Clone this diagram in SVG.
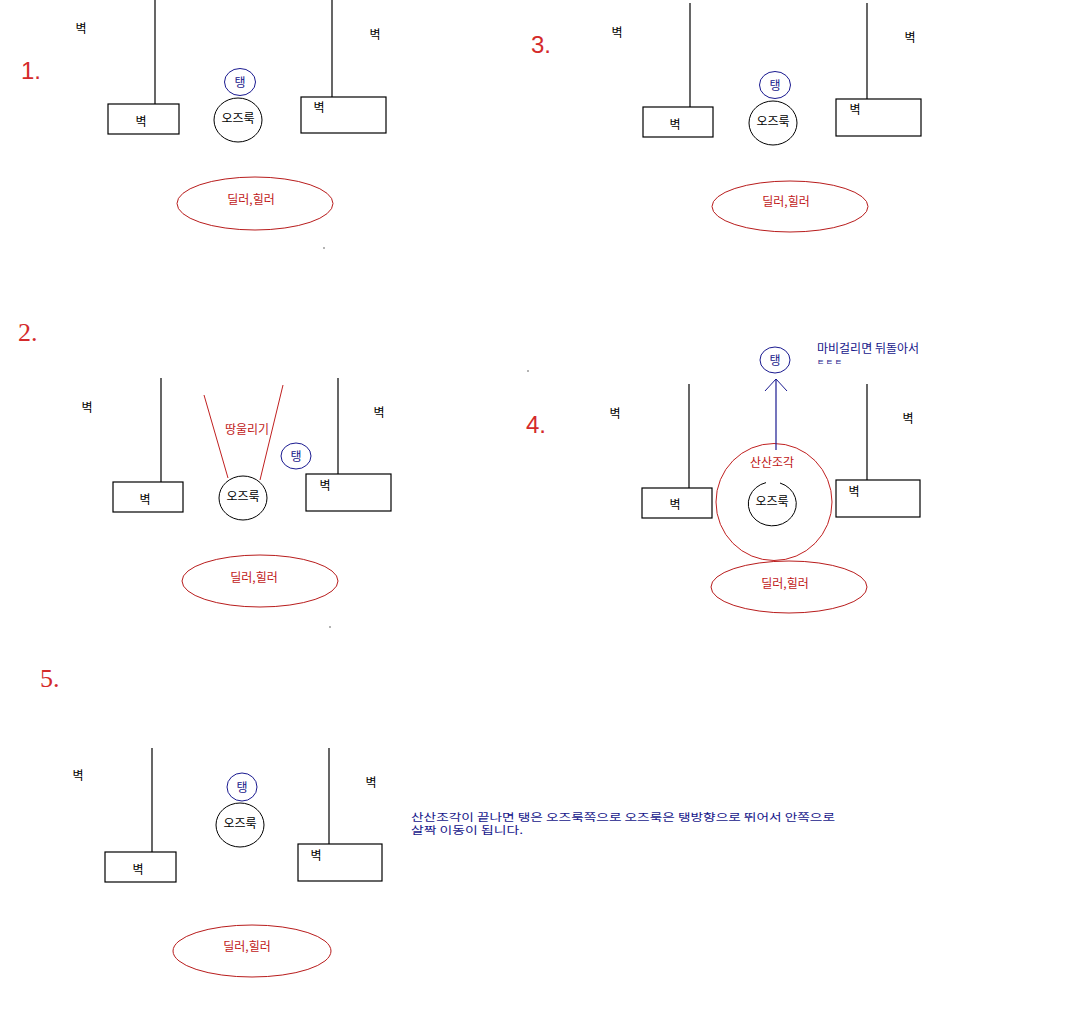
<svg xmlns="http://www.w3.org/2000/svg" width="1092" height="1014" viewBox="0 0 1092 1014">
<defs>
<style>
.bg{fill:#ffffff}
.wall{fill:none;stroke:#000;stroke-width:1.2}
.box{fill:#fff;stroke:#000;stroke-width:1.2}
.oz{fill:none;stroke:#000;stroke-width:1}
.tank{fill:none;stroke:#1a1a90;stroke-width:1}
.heal{fill:none;stroke:#b81c1c;stroke-width:1}
.red{fill:none;stroke:#c02020;stroke-width:1}
.t{font-family:"Noto Sans CJK KR","Noto Sans",sans-serif;font-size:12px;text-anchor:middle;dominant-baseline:central;fill:#000}
.tb{fill:#16168a}
.tr{fill:#c01818}
.num{font-family:"Liberation Sans",Arial,sans-serif;font-size:24px;fill:#d42a2a}
.nums{font-family:"Liberation Serif","Times New Roman",serif;font-size:26px;fill:#d42a2a}
.note{font-family:"Noto Sans CJK KR","Noto Sans",sans-serif;font-size:12px;fill:#16168a}
.note5{font-family:"Noto Sans CJK KR","Noto Sans",sans-serif;font-size:10.5px;fill:#16168a}
.dot{fill:#555}
</style>
<marker id="vhead" viewBox="0 0 14 24" refX="13" refY="12" markerWidth="14" markerHeight="24" markerUnits="userSpaceOnUse" orient="auto">
<path d="M1,1 L13,12 L1,23" fill="none" stroke="#1a1a90" stroke-width="1"/>
</marker>
</defs>
<rect class="bg" x="0" y="0" width="1092" height="1014"/>

<!-- Panel 1 -->
<g id="panel1">
<text class="num" x="21" y="79">1.</text>
<g id="p1-wall-left"><line class="wall" x1="155" y1="0" x2="155" y2="104"/><rect class="box" x="108" y="104" width="71" height="30"/><text class="t" x="141" y="120">벽</text></g>
<text class="t" x="81" y="27">벽</text>
<g id="p1-wall-right"><line class="wall" x1="332" y1="0" x2="332" y2="97"/><rect class="box" x="301" y="97" width="85" height="36"/><text class="t" x="319" y="106">벽</text></g>
<text class="t" x="375" y="33">벽</text>
<g id="p1-tank"><ellipse class="tank" cx="240" cy="82" rx="15.5" ry="13.5"/><text class="t tb" x="240" y="81">탱</text></g>
<g id="p1-oz"><ellipse class="oz" cx="238" cy="120" rx="24" ry="22"/><text class="t" x="238" y="117">오즈룩</text></g>
<g id="p1-healer"><ellipse class="heal" cx="255" cy="203.5" rx="78" ry="26.5"/><text class="t tr" x="251" y="198">딜러,힐러</text></g>
<circle class="dot" cx="324" cy="248" r="0.8"/>
</g>

<!-- Panel 3 -->
<g id="panel3">
<text class="num" x="531" y="53">3.</text>
<g id="p3-wall-left"><line class="wall" x1="690" y1="3" x2="690" y2="107"/><rect class="box" x="643" y="107" width="70" height="30"/><text class="t" x="675" y="123">벽</text></g>
<text class="t" x="617" y="31">벽</text>
<g id="p3-wall-right"><line class="wall" x1="867" y1="3" x2="867" y2="99"/><rect class="box" x="836" y="99" width="85" height="37"/><text class="t" x="855" y="108">벽</text></g>
<text class="t" x="910" y="36">벽</text>
<g id="p3-tank"><ellipse class="tank" cx="775" cy="85" rx="15.5" ry="13.5"/><text class="t tb" x="775" y="84">탱</text></g>
<g id="p3-oz"><ellipse class="oz" cx="773" cy="123" rx="24" ry="22"/><text class="t" x="773" y="120">오즈룩</text></g>
<g id="p3-healer"><ellipse class="heal" cx="790" cy="206.5" rx="78" ry="25.5"/><text class="t tr" x="786" y="200">딜러,힐러</text></g>
</g>

<!-- Panel 2 -->
<g id="panel2">
<text class="nums" x="18" y="341">2.</text>
<g id="p2-wall-left"><line class="wall" x1="161" y1="378" x2="161" y2="482"/><rect class="box" x="113" y="482" width="70" height="30"/><text class="t" x="145" y="498">벽</text></g>
<text class="t" x="87" y="406">벽</text>
<g id="p2-wall-right"><line class="wall" x1="338" y1="378" x2="338" y2="474"/><rect class="box" x="306" y="474" width="85" height="37"/><text class="t" x="325" y="484">벽</text></g>
<text class="t" x="379" y="411">벽</text>
<g id="p2-stomp"><line class="red" x1="204" y1="395" x2="228" y2="478"/><line class="red" x1="283" y1="385" x2="260" y2="480"/><text class="t tr" x="247" y="428">땅울리기</text></g>
<g id="p2-tank"><ellipse class="tank" cx="296" cy="456" rx="15" ry="13"/><text class="t tb" x="296" y="455">탱</text></g>
<g id="p2-oz"><ellipse class="oz" cx="243" cy="498" rx="24" ry="22"/><text class="t" x="243" y="495">오즈룩</text></g>
<g id="p2-healer"><ellipse class="heal" cx="260" cy="581" rx="78" ry="26"/><text class="t tr" x="254" y="576">딜러,힐러</text></g>
<circle class="dot" cx="330" cy="627" r="0.8"/>
<circle class="dot" cx="528" cy="371" r="0.8"/>
</g>

<!-- Panel 4 -->
<g id="panel4">
<text class="num" x="526" y="433">4.</text>
<g id="p4-wall-left"><line class="wall" x1="689" y1="384" x2="689" y2="488"/><rect class="box" x="642" y="488" width="70" height="30"/><text class="t" x="675" y="503">벽</text></g>
<text class="t" x="615" y="412">벽</text>
<g id="p4-wall-right"><line class="wall" x1="867" y1="384" x2="867" y2="480"/><rect class="box" x="836" y="480" width="84" height="37"/><text class="t" x="854" y="490">벽</text></g>
<text class="t" x="908" y="417">벽</text>
<g id="p4-shatter"><ellipse class="red" cx="774" cy="502" rx="58" ry="58.5"/><text class="t tr" x="772" y="461">산산조각</text></g>
<g id="p4-oz"><path class="oz" d="M766,482.6 A24,22 0 1 0 780,483" /><text class="t" x="772" y="500">오즈룩</text></g>
<g id="p4-tank"><ellipse class="tank" cx="775" cy="360" rx="15" ry="13"/><text class="t tb" x="775" y="359">탱</text></g>
<g id="p4-note"><text class="note" x="817" y="353">마비걸리면 뒤돌아서</text><text class="note" x="817" y="365" style="font-size:8px" letter-spacing="1.5">ㅌㅌㅌ</text></g>
<g id="p4-healer"><ellipse class="heal" cx="789" cy="587" rx="78" ry="26"/><text class="t tr" x="785" y="582">딜러,힐러</text></g>
</g>

<!-- Panel 5 -->
<g id="panel5">
<text class="nums" x="40" y="687">5.</text>
<g id="p5-wall-left"><line class="wall" x1="152" y1="748" x2="152" y2="852"/><rect class="box" x="105" y="852" width="71" height="30"/><text class="t" x="138" y="868">벽</text></g>
<text class="t" x="78" y="774">벽</text>
<g id="p5-wall-right"><line class="wall" x1="329" y1="748" x2="329" y2="844"/><rect class="box" x="298" y="844" width="84" height="37"/><text class="t" x="316" y="854">벽</text></g>
<text class="t" x="371" y="781">벽</text>
<g id="p5-tank"><ellipse class="tank" cx="242" cy="787" rx="15" ry="14"/><text class="t tb" x="242" y="786">탱</text></g>
<g id="p5-oz"><ellipse class="oz" cx="240" cy="825" rx="24" ry="22"/><text class="t" x="240" y="822">오즈룩</text></g>
<g id="p5-healer"><ellipse class="heal" cx="252" cy="951" rx="79" ry="26"/><text class="t tr" x="247" y="945">딜러,힐러</text></g>
<g id="p5-note"><text class="note5" x="411" y="821" textLength="424" lengthAdjust="spacingAndGlyphs">산산조각이 끝나면 탱은 오즈룩쪽으로 오즈룩은 탱방향으로 뛰어서 안쪽으로</text><text class="note5" x="411" y="834" textLength="112" lengthAdjust="spacingAndGlyphs">살짝 이동이 됩니다.</text></g>
</g>

<g id="connectors">
<line x1="776" y1="450" x2="776" y2="379" stroke="#1a1a90" stroke-width="1.2" marker-end="url(#vhead)"/>
</g>
</svg>
